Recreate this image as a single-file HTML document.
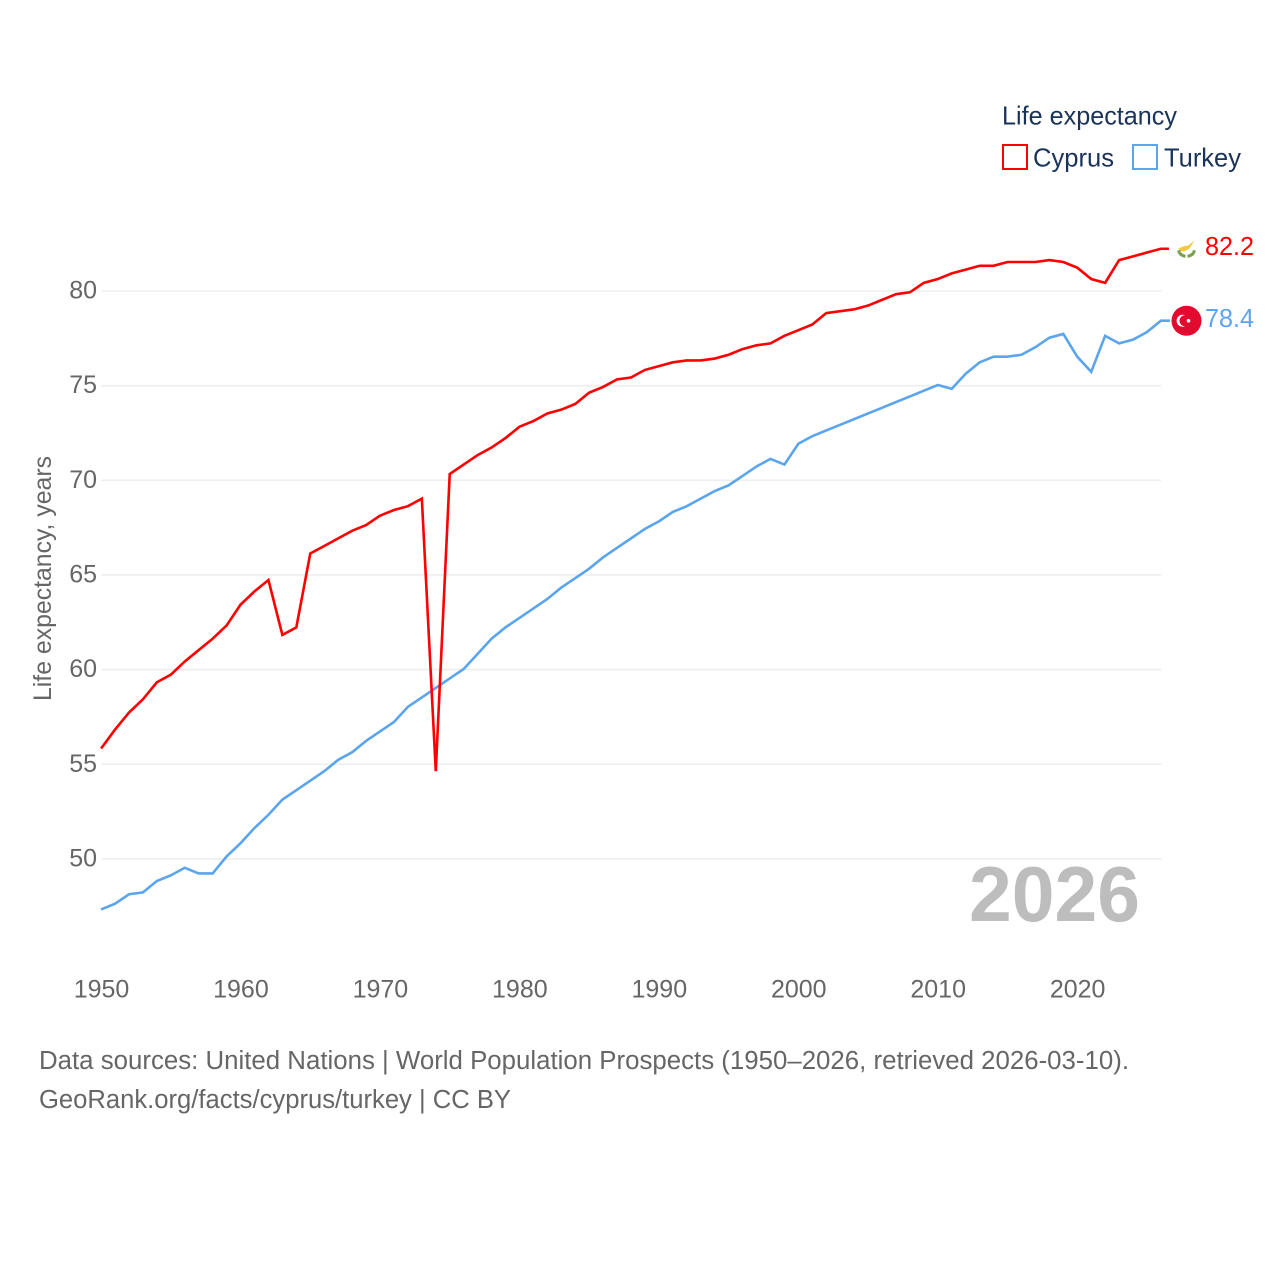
<!DOCTYPE html>
<html lang="en">
<head>
<meta charset="utf-8">
<title>Life expectancy: Cyprus and Turkey</title>
<style>
html,body{margin:0;padding:0;background:#fff;}
svg{display:block;font-family:"Liberation Sans",sans-serif;}
.tick{fill:#666;font-size:25px;}
</style>
</head>
<body>
<svg id="chart" xmlns="http://www.w3.org/2000/svg" width="1280" height="1280" viewBox="0 0 1280 1280">
  <rect width="1280" height="1280" fill="#ffffff"/>
  <g id="grid"></g>
  <g id="ticks"></g>
  <text transform="translate(51,701) rotate(-90)" font-size="25" fill="#666" textLength="245" lengthAdjust="spacingAndGlyphs">Life expectancy, years</text>
  <text x="969" y="921" font-size="78" font-weight="700" fill="#bdbdbd" textLength="171" lengthAdjust="spacingAndGlyphs">2026</text>
  <g id="series" transform="translate(-0.4,-0.6)"></g>
  <g id="ends"></g>
  <g>
    <text x="1002" y="124.5" font-size="26" fill="#1a3358" textLength="175" lengthAdjust="spacingAndGlyphs">Life expectancy</text>
    <rect x="1003" y="145" width="24" height="24" fill="none" stroke="#ff0000" stroke-width="2"/>
    <text x="1033" y="166.5" font-size="26" fill="#1a3358" textLength="81" lengthAdjust="spacingAndGlyphs">Cyprus</text>
    <rect x="1133" y="145" width="24" height="24" fill="none" stroke="#5ba4ee" stroke-width="2"/>
    <text x="1164" y="166.5" font-size="26" fill="#1a3358" textLength="77" lengthAdjust="spacingAndGlyphs">Turkey</text>
  </g>
  <text x="39" y="1069" font-size="25.5" fill="#666" textLength="1090" lengthAdjust="spacingAndGlyphs">Data sources: United Nations | World Population Prospects (1950–2026, retrieved 2026-03-10).</text>
  <text x="39" y="1108" font-size="25.5" fill="#666" textLength="472" lengthAdjust="spacingAndGlyphs">GeoRank.org/facts/cyprus/turkey | CC BY</text>
</svg>
<script>
const startYear = 1950;
const xTickYears = [1950, 1960, 1970, 1980, 1990, 2000, 2010, 2020];
const yTickValues = [50, 55, 60, 65, 70, 75, 80];
const cyprusValues = [
  55.8, 56.8, 57.7, 58.4, 59.3, 59.7, 60.4, 61.0, 61.6, 62.3,
  63.4, 64.1, 64.7, 61.8, 62.2, 66.1, 66.5, 66.9, 67.3, 67.6,
  68.1, 68.4, 68.6, 69.0, 54.6, 70.3, 70.8, 71.3, 71.7, 72.2,
  72.8, 73.1, 73.5, 73.7, 74.0, 74.6, 74.9, 75.3, 75.4, 75.8,
  76.0, 76.2, 76.3, 76.3, 76.4, 76.6, 76.9, 77.1, 77.2, 77.6,
  77.9, 78.2, 78.8, 78.9, 79.0, 79.2, 79.5, 79.8, 79.9, 80.4,
  80.6, 80.9, 81.1, 81.3, 81.3, 81.5, 81.5, 81.5, 81.6, 81.5,
  81.2, 80.6, 80.4, 81.6, 81.8, 82.0, 82.2
];
const turkeyValues = [
  47.3, 47.6, 48.1, 48.2, 48.8, 49.1, 49.5, 49.2, 49.2, 50.1,
  50.8, 51.6, 52.3, 53.1, 53.6, 54.1, 54.6, 55.2, 55.6, 56.2,
  56.7, 57.2, 58.0, 58.5, 59.0, 59.5, 60.0, 60.8, 61.6, 62.2,
  62.7, 63.2, 63.7, 64.3, 64.8, 65.3, 65.9, 66.4, 66.9, 67.4,
  67.8, 68.3, 68.6, 69.0, 69.4, 69.7, 70.2, 70.7, 71.1, 70.8,
  71.9, 72.3, 72.6, 72.9, 73.2, 73.5, 73.8, 74.1, 74.4, 74.7,
  75.0, 74.8, 75.6, 76.2, 76.5, 76.5, 76.6, 77.0, 77.5, 77.7,
  76.5, 75.7, 77.6, 77.2, 77.4, 77.8, 78.4
];

const SVG_NS = 'http://www.w3.org/2000/svg';
const xScale = function (year) { return 101.5 + (year - 1950) * 13.945; };
const yScale = function (value) { return 291 + (80 - value) * 18.93; };
const make = function (tag, parent) {
  const el = document.createElementNS(SVG_NS, tag);
  parent.appendChild(el);
  return el;
};
const pathFor = function (values) {
  return values.map(function (v, i) {
    return (i ? 'L' : 'M') + xScale(startYear + i).toFixed(2) + ' ' + yScale(v).toFixed(2);
  }).join(' ');
};

const gridGroup = document.getElementById('grid');
const tickGroup = document.getElementById('ticks');
const lastYear = startYear + cyprusValues.length - 1;

yTickValues.forEach(function (v) {
  const line = make('line', gridGroup);
  
  
  line.setAttribute('x1', xScale(startYear));
  line.setAttribute('x2', xScale(lastYear));
  line.setAttribute('y1', yScale(v));
  line.setAttribute('y2', yScale(v));
  line.setAttribute('stroke', '#eeeeee');
  line.setAttribute('stroke-width', '1.6');
  const label = make('text', tickGroup);
  
  
  label.setAttribute('class', 'tick');
  label.setAttribute('x', 97);
  label.setAttribute('y', yScale(v) + 7.5);
  label.setAttribute('text-anchor', 'end');
  label.textContent = String(v);
});

xTickYears.forEach(function (year) {
  const label = make('text', tickGroup);
  
  
  label.setAttribute('class', 'tick');
  label.setAttribute('x', xScale(year));
  label.setAttribute('y', 997.5);
  label.setAttribute('text-anchor', 'middle');
  label.textContent = String(year);
});

const seriesGroup = document.getElementById('series');

const turkeyLine = make('path', seriesGroup);


turkeyLine.setAttribute('d', pathFor(turkeyValues) + ' h9');
turkeyLine.setAttribute('fill', 'none');
turkeyLine.setAttribute('stroke', '#5ba4ee');
turkeyLine.setAttribute('stroke-width', '2.6');
turkeyLine.setAttribute('stroke-linejoin', 'miter');
turkeyLine.setAttribute('stroke-miterlimit', '10');

const cyprusLine = make('path', seriesGroup);


cyprusLine.setAttribute('d', pathFor(cyprusValues) + ' h8');
cyprusLine.setAttribute('fill', 'none');
cyprusLine.setAttribute('stroke', '#ff0000');
cyprusLine.setAttribute('stroke-width', '2.6');
cyprusLine.setAttribute('stroke-linejoin', 'miter');
cyprusLine.setAttribute('stroke-miterlimit', '10');

const endsGroup = document.getElementById('ends');
const flagX = 1186.5;

const cyprusEndValue = cyprusValues[cyprusValues.length - 1];
const turkeyEndValue = turkeyValues[turkeyValues.length - 1];

const cyprusFlag = make('g', endsGroup);


cyprusFlag.setAttribute('transform', 'translate(' + flagX + ',' + yScale(cyprusEndValue) + ')');
const cyprusDisc = make('circle', cyprusFlag);
cyprusDisc.setAttribute('r', '15');
cyprusDisc.setAttribute('fill', '#ffffff');
const cyprusIsland = make('path', cyprusFlag);
cyprusIsland.setAttribute('d', 'M-8 -1 L-3 -3 L2 -4 L8 -9 L5 -4 L3 -1 L-2 2 L-6 2 Z');
cyprusIsland.setAttribute('fill', '#f2c83c');
const cyprusWreath = make('path', cyprusFlag);
cyprusWreath.setAttribute('d', 'M-8 1 Q-7 6 -1 7 M8 1 Q7 6 1 7');
cyprusWreath.setAttribute('fill', 'none');
cyprusWreath.setAttribute('stroke', '#7aa050');
cyprusWreath.setAttribute('stroke-width', '3');

const cyprusLabel = make('text', endsGroup);


cyprusLabel.setAttribute('x', 1205);
cyprusLabel.setAttribute('y', yScale(cyprusEndValue) + 5.5);
cyprusLabel.setAttribute('font-size', '25.5');
cyprusLabel.setAttribute('fill', '#ff0000');
cyprusLabel.setAttribute('textLength', '49');
cyprusLabel.setAttribute('lengthAdjust', 'spacingAndGlyphs');
cyprusLabel.textContent = cyprusEndValue.toFixed(1);

const turkeyFlag = make('g', endsGroup);


turkeyFlag.setAttribute('transform', 'translate(' + flagX + ',' + (yScale(turkeyEndValue) - 0.5) + ')');
const turkeyDisc = make('circle', turkeyFlag);
turkeyDisc.setAttribute('r', '15');
turkeyDisc.setAttribute('fill', '#e30a2f');
const crescent = make('path', turkeyFlag);
crescent.setAttribute('d', 'M-1.5 -5.5 A6 6 0 1 0 -1.5 5.5 A4.8 4.8 0 1 1 -1.5 -5.5 Z');
crescent.setAttribute('fill', '#ffffff');
const star = make('circle', turkeyFlag);
star.setAttribute('cx', '2');
star.setAttribute('r', '1.8');
star.setAttribute('fill', '#ffffff');

const turkeyLabel = make('text', endsGroup);


turkeyLabel.setAttribute('x', 1205);
turkeyLabel.setAttribute('y', yScale(turkeyEndValue) + 5.5);
turkeyLabel.setAttribute('font-size', '25.5');
turkeyLabel.setAttribute('fill', '#5ba4ee');
turkeyLabel.setAttribute('textLength', '49');
turkeyLabel.setAttribute('lengthAdjust', 'spacingAndGlyphs');
turkeyLabel.textContent = turkeyEndValue.toFixed(1);
</script>
</body>
</html>
